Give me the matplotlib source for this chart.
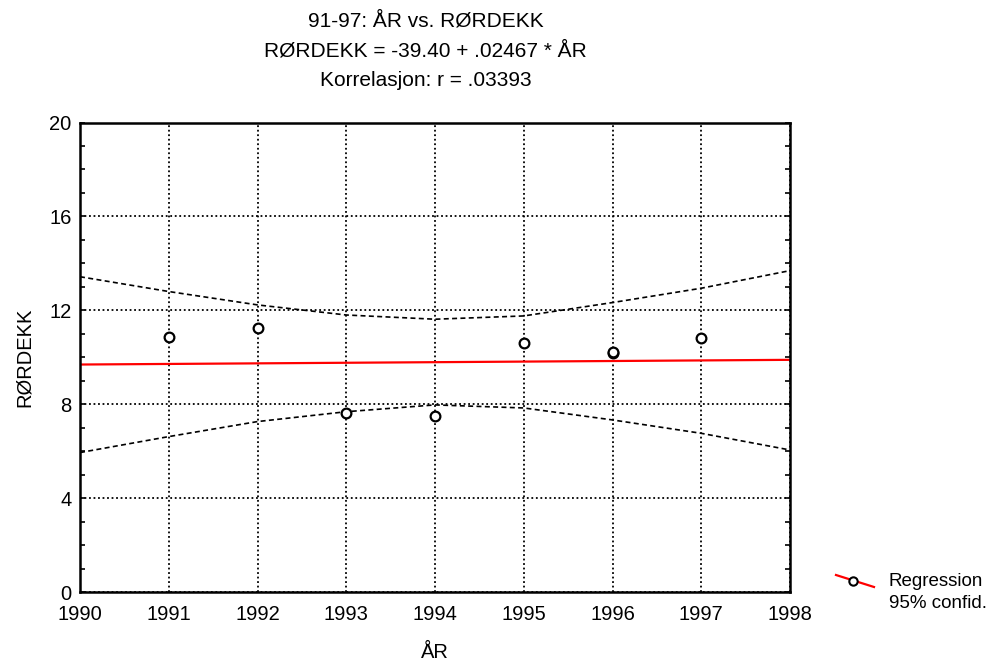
import matplotlib
matplotlib.use("Agg")
import matplotlib.pyplot as plt
from matplotlib.lines import Line2D
from matplotlib.ticker import MultipleLocator

plt.rcParams['font.family'] = ['Liberation Sans', 'DejaVu Sans']

# observations (year, RØRDEKK)
years = [1991, 1992, 1993, 1994, 1995, 1996, 1996, 1997]
rordekk = [10.88, 11.24, 7.63, 7.50, 10.60, 10.17, 10.21, 10.84]

# regression line end points
reg_x = [1990, 1998]
reg_y = [9.69, 9.89]

# 95% confidence band
band_x = [1990, 1991, 1992, 1993, 1994, 1995, 1996, 1997, 1998]
upper = [13.43, 12.80, 12.23, 11.80, 11.62, 11.76, 12.33, 12.94, 13.69]
lower = [5.94, 6.62, 7.26, 7.68, 7.97, 7.84, 7.33, 6.76, 6.05]

fig = plt.figure(figsize=(10.01, 6.61), dpi=100)
ax = fig.add_axes([80 / 1001, 1 - 592 / 661, 710 / 1001, 469.5 / 661])

ax.plot(band_x, upper, color='black', lw=1.2, linestyle=(0, (3, 2)))
ax.plot(band_x, lower, color='black', lw=1.2, linestyle=(0, (3, 2)))
ax.plot(reg_x, reg_y, color='red', lw=1.6)
ax.plot(years, rordekk, linestyle='none', marker='o', markersize=7,
        markerfacecolor='white', markeredgecolor='black', markeredgewidth=1.6)

ax.set_xlim(1990, 1998)
ax.set_ylim(0, 20)
ax.set_xticks(range(1990, 1999))
ax.set_yticks([0, 4, 8, 12, 16, 20])
ax.yaxis.set_minor_locator(MultipleLocator(1))
ax.tick_params(axis='both', labelsize=14.5, direction='in', length=0)
ax.tick_params(axis='y', which='both', direction='in', length=3.5,
               left=True, right=True, width=1.2, pad=6)
ax.tick_params(axis='x', pad=9)
ax.grid(True, color='black', linestyle=(0, (1, 1.5)), linewidth=1.3)
for s in ax.spines.values():
    s.set_linewidth(1.8)

ax.set_ylabel('RØRDEKK', fontsize=14.5, labelpad=11)
ax.set_xlabel('ÅR', fontsize=14.5, labelpad=14)

fig.text(0.425, 1 - 21 / 661, '91-97: ÅR vs. RØRDEKK', ha='center', va='center', fontsize=15)
fig.text(0.425, 1 - 51 / 661, 'RØRDEKK = -39.40 + .02467 * ÅR', ha='center', va='center', fontsize=15)
fig.text(0.425, 1 - 81 / 661, 'Korrelasjon: r = .03393', ha='center', va='center', fontsize=15)

# legend sample
lx = [836 / 1001, 874 / 1001]
ly = [1 - 575 / 661, 1 - 587 / 661]
fig.add_artist(Line2D(lx, ly, color='red', lw=1.6, transform=fig.transFigure))
fig.add_artist(Line2D([853 / 1001], [1 - 581 / 661], marker='o', markersize=6,
                      markerfacecolor='white', markeredgecolor='black',
                      markeredgewidth=1.5, transform=fig.transFigure))
fig.text(889 / 1001, 1 - 582 / 661, 'Regression', ha='left', va='center', fontsize=13.5)
fig.text(889 / 1001, 1 - 604 / 661, '95% confid.', ha='left', va='center', fontsize=13.5)

plt.savefig('out.png', dpi=100)
